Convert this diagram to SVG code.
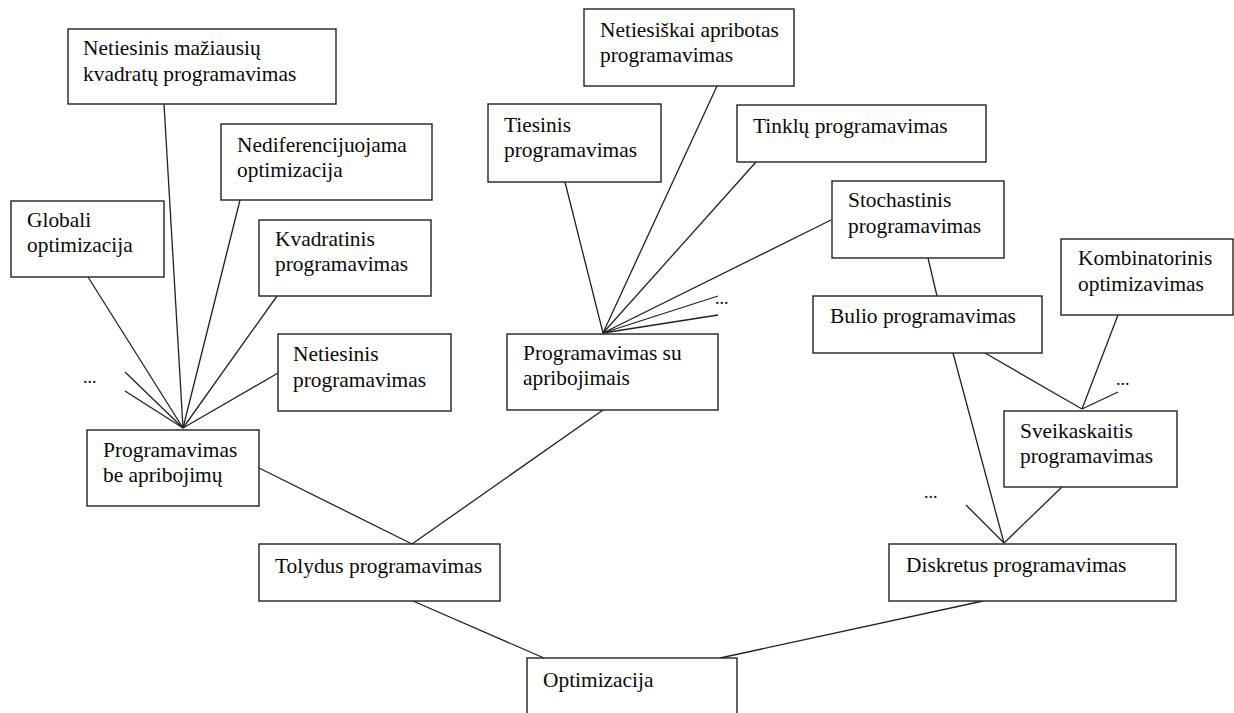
<svg xmlns="http://www.w3.org/2000/svg" width="1234" height="713" viewBox="0 0 1234 713">
<style>
.box{fill:#fff;stroke:#222;stroke-width:1.4}
.t{font-family:"Liberation Serif","Times New Roman",serif;font-size:21.4px;fill:#0a0a0a}
.d{font-family:"Liberation Serif","Times New Roman",serif;font-size:18px;fill:#111}
.c line{stroke:#222;stroke-width:1.3}
</style>
<rect width="1234" height="713" fill="#fff"/>
<g class="c" id="connectors">
<line x1="164" y1="104" x2="183" y2="428"/>
<line x1="240" y1="200" x2="183" y2="428"/>
<line x1="88" y1="277" x2="183" y2="428"/>
<line x1="277" y1="296" x2="183" y2="428"/>
<line x1="278" y1="373" x2="183" y2="428"/>
<line x1="125" y1="372" x2="183" y2="428"/>
<line x1="125" y1="391" x2="183" y2="428"/>
<line x1="259" y1="468" x2="412" y2="544"/>
<line x1="565" y1="182" x2="603" y2="333"/>
<line x1="717" y1="86" x2="603" y2="333"/>
<line x1="756" y1="162" x2="603" y2="333"/>
<line x1="831" y1="220" x2="603" y2="333"/>
<line x1="718" y1="296" x2="603" y2="333"/>
<line x1="718" y1="315" x2="603" y2="333"/>
<line x1="603" y1="410" x2="412" y2="544"/>
<line x1="413" y1="601" x2="544" y2="658"/>
<line x1="983" y1="601" x2="720" y2="658"/>
<line x1="928" y1="258" x2="937" y2="296"/>
<line x1="985" y1="353" x2="1082" y2="409"/>
<line x1="1118" y1="315" x2="1082" y2="409"/>
<line x1="1118" y1="392" x2="1082" y2="409"/>
<line x1="953" y1="353" x2="1004" y2="543"/>
<line x1="1062" y1="487" x2="1004" y2="543"/>
<line x1="966" y1="505" x2="1004" y2="543"/>
</g>
<g id="dots">
<text class="d" x="83" y="383">...</text>
<text class="d" x="715" y="304">...</text>
<text class="d" x="1116" y="385">...</text>
<text class="d" x="924" y="498">...</text>
</g>
<g id="n-nmk"><rect class="box" x="68" y="29" width="268" height="75"/><text class="t" x="83" y="55">Netiesinis mažiausių</text><text class="t" x="83" y="81">kvadratų programavimas</text></g>
<g id="n-nedif"><rect class="box" x="221" y="124" width="211" height="76"/><text class="t" x="237" y="152">Nediferencijuojama</text><text class="t" x="237" y="177">optimizacija</text></g>
<g id="n-glob"><rect class="box" x="11" y="201" width="153" height="76"/><text class="t" x="27" y="227">Globali</text><text class="t" x="27" y="252">optimizacija</text></g>
<g id="n-kvad"><rect class="box" x="259" y="220" width="172" height="76"/><text class="t" x="275" y="246">Kvadratinis</text><text class="t" x="275" y="271">programavimas</text></g>
<g id="n-neties"><rect class="box" x="278" y="334" width="173" height="77"/><text class="t" x="293" y="361">Netiesinis</text><text class="t" x="293" y="387">programavimas</text></g>
<g id="n-bea"><rect class="box" x="87" y="430" width="172" height="76"/><text class="t" x="103" y="457">Programavimas</text><text class="t" x="103" y="482">be apribojimų</text></g>
<g id="n-tol"><rect class="box" x="259" y="544" width="241" height="57"/><text class="t" x="275" y="573">Tolydus programavimas</text></g>
<g id="n-nap"><rect class="box" x="584" y="9" width="210" height="77"/><text class="t" x="600" y="37">Netiesiškai apribotas</text><text class="t" x="600" y="62">programavimas</text></g>
<g id="n-ties"><rect class="box" x="488" y="104" width="173" height="78"/><text class="t" x="504" y="132">Tiesinis</text><text class="t" x="504" y="157">programavimas</text></g>
<g id="n-tink"><rect class="box" x="737" y="105" width="249" height="57"/><text class="t" x="753" y="133">Tinklų programavimas</text></g>
<g id="n-stoch"><rect class="box" x="832" y="181" width="172" height="77"/><text class="t" x="848" y="207">Stochastinis</text><text class="t" x="848" y="233">programavimas</text></g>
<g id="n-sua"><rect class="box" x="507" y="334" width="211" height="76"/><text class="t" x="523" y="360">Programavimas su</text><text class="t" x="523" y="385">apribojimais</text></g>
<g id="n-bul"><rect class="box" x="813" y="296" width="229" height="57"/><text class="t" x="830" y="323">Bulio programavimas</text></g>
<g id="n-komb"><rect class="box" x="1061" y="239" width="172" height="76"/><text class="t" x="1078" y="265">Kombinatorinis</text><text class="t" x="1078" y="291">optimizavimas</text></g>
<g id="n-sveik"><rect class="box" x="1004" y="411" width="173" height="76"/><text class="t" x="1020" y="438">Sveikaskaitis</text><text class="t" x="1020" y="463">programavimas</text></g>
<g id="n-disk"><rect class="box" x="889" y="544" width="287" height="57"/><text class="t" x="906" y="572">Diskretus programavimas</text></g>
<g id="n-opt"><rect class="box" x="527" y="658" width="210" height="70"/><text class="t" x="543" y="687">Optimizacija</text></g>
</svg>
